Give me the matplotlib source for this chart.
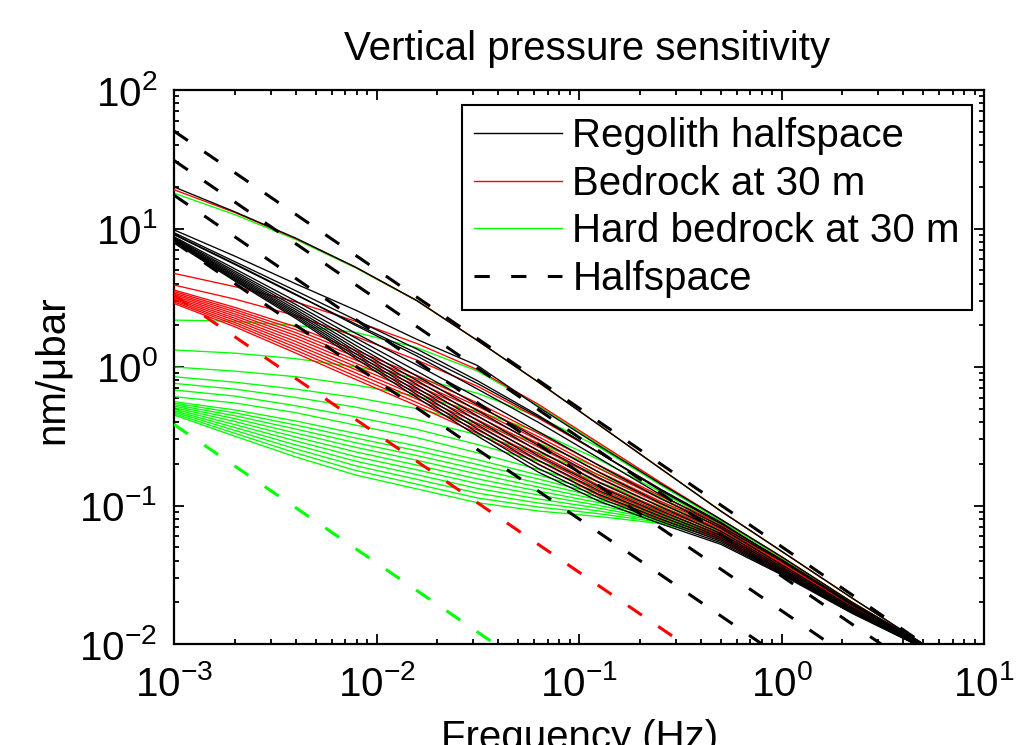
import numpy as np
import matplotlib
matplotlib.use("Agg")
import matplotlib.pyplot as plt
from matplotlib.lines import Line2D
from matplotlib.ticker import FixedLocator, LogLocator, NullFormatter

plt.rcParams['font.family'] = ['Liberation Sans', 'DejaVu Sans']
plt.rcParams['mathtext.fontset'] = 'custom'
plt.rcParams['mathtext.rm'] = 'Liberation Sans'
plt.rcParams['mathtext.it'] = 'Liberation Sans:italic'
plt.rcParams['mathtext.bf'] = 'Liberation Sans:bold'

# ---------------- data ----------------
freq_hz = [0.001, 0.002, 0.004, 0.0079, 0.0158, 0.0316, 0.0631, 0.126, 0.251, 0.501, 1.0, 2.24, 5.01]

# log10(nm/ubar) of each curve at freq_hz
regolith_log = [
    [1.300, 1.120, 0.930, 0.720, 0.480, 0.190, -0.110, -0.420, -0.730, -1.040, -1.330, -1.670, -2.000],
    [0.990, 0.800, 0.600, 0.410, 0.200, 0.010, -0.290, -0.570, -0.840, -1.100, -1.370, -1.700, -2.000],
    [0.970, 0.760, 0.550, 0.340, 0.130, -0.100, -0.350, -0.620, -0.890, -1.130, -1.390, -1.710, -2.000],
    [0.960, 0.745, 0.525, 0.300, 0.080, -0.160, -0.400, -0.660, -0.920, -1.150, -1.400, -1.720, -2.010],
    [0.955, 0.740, 0.520, 0.310, 0.100, -0.120, -0.360, -0.620, -0.880, -1.120, -1.400, -1.720, -2.000],
    [0.940, 0.708, 0.475, 0.243, 0.015, -0.221, -0.467, -0.713, -0.947, -1.163, -1.427, -1.736, -2.008],
    [0.933, 0.691, 0.451, 0.209, -0.030, -0.274, -0.522, -0.762, -0.981, -1.185, -1.441, -1.744, -2.012],
    [0.927, 0.678, 0.432, 0.181, -0.065, -0.316, -0.567, -0.801, -1.009, -1.203, -1.452, -1.751, -2.016],
    [0.921, 0.666, 0.415, 0.156, -0.097, -0.354, -0.606, -0.835, -1.034, -1.218, -1.462, -1.757, -2.018],
    [0.916, 0.656, 0.400, 0.134, -0.125, -0.387, -0.641, -0.866, -1.056, -1.232, -1.470, -1.762, -2.021],
    [0.912, 0.646, 0.387, 0.114, -0.151, -0.418, -0.674, -0.894, -1.076, -1.245, -1.478, -1.767, -2.024],
    [0.908, 0.637, 0.374, 0.095, -0.175, -0.447, -0.704, -0.921, -1.095, -1.258, -1.486, -1.772, -2.026],
    [0.904, 0.628, 0.362, 0.077, -0.198, -0.474, -0.733, -0.946, -1.113, -1.269, -1.493, -1.776, -2.028],
    [0.900, 0.620, 0.350, 0.060, -0.220, -0.500, -0.760, -0.970, -1.130, -1.280, -1.500, -1.780, -2.030],
]

bedrock_log = [
    [1.280, 1.115, 0.927, 0.720, 0.480, 0.190, -0.110, -0.420, -0.730, -1.040, -1.330, -1.670, -2.000],
    [0.676, 0.580, 0.470, 0.330, 0.170, -0.020, -0.270, -0.550, -0.830, -1.100, -1.370, -1.700, -2.000],
    [0.592, 0.490, 0.370, 0.220, 0.050, -0.140, -0.370, -0.620, -0.880, -1.130, -1.390, -1.710, -2.000],
    [0.556, 0.430, 0.290, 0.120, -0.060, -0.260, -0.480, -0.710, -0.930, -1.130, -1.400, -1.720, -2.000],
    [0.545, 0.414, 0.269, 0.097, -0.084, -0.284, -0.504, -0.734, -0.949, -1.143, -1.410, -1.726, -2.003],
    [0.534, 0.399, 0.248, 0.073, -0.109, -0.309, -0.529, -0.759, -0.968, -1.157, -1.420, -1.731, -2.007],
    [0.524, 0.383, 0.227, 0.050, -0.133, -0.333, -0.553, -0.783, -0.987, -1.170, -1.430, -1.737, -2.010],
    [0.513, 0.368, 0.206, 0.027, -0.158, -0.358, -0.578, -0.808, -1.005, -1.183, -1.440, -1.742, -2.013],
    [0.502, 0.352, 0.184, 0.003, -0.182, -0.382, -0.602, -0.832, -1.024, -1.197, -1.450, -1.748, -2.017],
    [0.491, 0.337, 0.163, -0.020, -0.207, -0.407, -0.627, -0.857, -1.043, -1.210, -1.460, -1.753, -2.020],
    [0.480, 0.321, 0.142, -0.043, -0.231, -0.431, -0.651, -0.881, -1.062, -1.223, -1.470, -1.759, -2.023],
    [0.470, 0.306, 0.121, -0.067, -0.256, -0.456, -0.676, -0.906, -1.081, -1.237, -1.480, -1.764, -2.027],
    [0.459, 0.290, 0.100, -0.090, -0.280, -0.480, -0.700, -0.930, -1.100, -1.250, -1.490, -1.770, -2.030],
]

hard_bedrock_log = [
    [1.255, 1.100, 0.920, 0.715, 0.478, 0.190, -0.110, -0.420, -0.730, -1.040, -1.330, -1.670, -2.000],
    [0.339, 0.330, 0.300, 0.250, 0.140, -0.030, -0.280, -0.560, -0.840, -1.100, -1.370, -1.700, -2.000],
    [0.123, 0.100, 0.060, 0.000, -0.080, -0.190, -0.360, -0.580, -0.850, -1.110, -1.380, -1.710, -2.000],
    [0.000, -0.030, -0.070, -0.130, -0.210, -0.320, -0.470, -0.670, -0.900, -1.140, -1.400, -1.720, -2.000],
    [-0.070, -0.110, -0.160, -0.220, -0.300, -0.410, -0.550, -0.730, -0.940, -1.160, -1.410, -1.730, -2.000],
    [-0.118, -0.160, -0.220, -0.290, -0.380, -0.490, -0.620, -0.780, -0.970, -1.180, -1.420, -1.730, -2.000],
    [-0.166, -0.210, -0.280, -0.360, -0.450, -0.560, -0.680, -0.830, -1.000, -1.190, -1.430, -1.740, -2.000],
    [-0.214, -0.260, -0.330, -0.420, -0.510, -0.620, -0.740, -0.870, -1.020, -1.200, -1.440, -1.740, -2.000],
    [-0.250, -0.310, -0.390, -0.480, -0.570, -0.670, -0.780, -0.900, -1.040, -1.210, -1.450, -1.750, -2.010],
    [-0.261, -0.331, -0.419, -0.513, -0.604, -0.704, -0.809, -0.920, -1.050, -1.212, -1.452, -1.752, -2.012],
    [-0.272, -0.352, -0.448, -0.547, -0.639, -0.739, -0.838, -0.940, -1.060, -1.214, -1.454, -1.754, -2.014],
    [-0.282, -0.373, -0.477, -0.580, -0.673, -0.773, -0.867, -0.960, -1.070, -1.217, -1.457, -1.757, -2.017],
    [-0.293, -0.394, -0.506, -0.613, -0.708, -0.808, -0.896, -0.980, -1.080, -1.219, -1.459, -1.759, -2.019],
    [-0.304, -0.416, -0.534, -0.647, -0.742, -0.842, -0.924, -1.000, -1.090, -1.221, -1.461, -1.761, -2.021],
    [-0.315, -0.437, -0.563, -0.680, -0.777, -0.877, -0.953, -1.020, -1.100, -1.223, -1.463, -1.763, -2.023],
    [-0.325, -0.458, -0.592, -0.713, -0.811, -0.911, -0.982, -1.040, -1.110, -1.226, -1.466, -1.766, -2.026],
    [-0.336, -0.479, -0.621, -0.747, -0.846, -0.946, -1.011, -1.060, -1.120, -1.228, -1.468, -1.768, -2.028],
    [-0.347, -0.500, -0.650, -0.780, -0.880, -0.980, -1.040, -1.080, -1.130, -1.230, -1.470, -1.770, -2.030],
]

# halfspace lines: value at 1 mHz and at 10 Hz
halfspace_f = [0.001, 10.0]
halfspace_black = [[50.5, 0.00505], [31.0, 0.0031], [17.4, 0.00174], [8.0, 0.0008]]
halfspace_red = [[3.3, 0.00033]]
halfspace_green = [[0.385, 0.0000385]]

legend_labels = ['Regolith halfspace', 'Bedrock at 30 m', 'Hard bedrock at 30 m', 'Halfspace']
xtick_vals = [1e-3, 1e-2, 1e-1, 1e0, 1e1]
xtick_labels = [r'$10^{-3}$', r'$10^{-2}$', r'$10^{-1}$', r'$10^{0}$', r'$10^{1}$']
ytick_vals = [1e-2, 1e-1, 1e0, 1e1, 1e2]
ytick_labels = [r'$10^{-2}$', r'$10^{-1}$', r'$10^{0}$', r'$10^{1}$', r'$10^{2}$']

# ---------------- drawing ----------------
W, H = 1019, 745
fig = plt.figure(figsize=(W / 100, H / 100), dpi=100)
ax = fig.add_axes([174 / W, (H - 644) / H, 810 / W, 554 / H])
ax.set_xscale('log')
ax.set_yscale('log')

f = np.array(freq_hz)
LW = 0.95
for row in hard_bedrock_log:
    ax.plot(f, 10 ** np.array(row), color=(0, 1, 0), lw=LW, zorder=2)
for row in bedrock_log:
    ax.plot(f, 10 ** np.array(row), color=(1, 0, 0), lw=LW, zorder=3)
for row in regolith_log:
    ax.plot(f, 10 ** np.array(row), color='black', lw=LW, zorder=4)

DASH = (5.5, 6.5)
DLW = 2.2
for color, rows in [((0, 1, 0), halfspace_green), ((1, 0, 0), halfspace_red), ('black', halfspace_black)]:
    for r in rows:
        ln, = ax.plot(halfspace_f, r, color=color, lw=DLW, zorder=5)
        ln.set_dashes(DASH)
        ln.set_dash_capstyle('butt')

ax.set_xlim(1e-3, 1e1)
ax.set_ylim(1e-2, 1e2)

FS = 29
ax.xaxis.set_major_locator(FixedLocator(xtick_vals))
ax.yaxis.set_major_locator(FixedLocator(ytick_vals))
ax.set_xticklabels(xtick_labels, fontsize=FS)
ax.set_yticklabels(ytick_labels, fontsize=FS)
ax.xaxis.set_minor_locator(LogLocator(base=10, subs=np.arange(2, 10), numticks=20))
ax.yaxis.set_minor_locator(LogLocator(base=10, subs=np.arange(2, 10), numticks=20))
ax.xaxis.set_minor_formatter(NullFormatter())
ax.yaxis.set_minor_formatter(NullFormatter())
ax.tick_params(which='both', direction='in', top=True, right=True, width=1.3, colors='black')
ax.tick_params(which='major', length=7)
ax.tick_params(which='minor', length=3.5)
ax.tick_params(axis='x', which='major', pad=15)
ax.tick_params(axis='y', which='major', pad=12)
for s in ax.spines.values():
    s.set_linewidth(1.6)

fig.text(587 / W, (H - 60) / H, 'Vertical pressure sensitivity', ha='center', va='baseline', fontsize=FS)
fig.text(580 / W, (H - 749) / H, 'Frequency (Hz)', ha='center', va='baseline', fontsize=FS)
fig.text(52 / W, (H - 370) / H, 'nm/μbar', ha='center', va='center', rotation=90, fontsize=FS)

handles = [
    Line2D([], [], color='black', lw=1.0),
    Line2D([], [], color=(1, 0, 0), lw=1.0),
    Line2D([], [], color=(0, 1, 0), lw=1.0),
    Line2D([], [], color='black', lw=DLW, dashes=(5.0, 7.0), dash_capstyle='butt'),
]
leg = ax.legend(handles, legend_labels, loc='upper right',
                bbox_to_anchor=((972 - 174) / 810, (644 - 105) / 554),
                borderaxespad=0, fontsize=FS, frameon=True, fancybox=False,
                handlelength=2.2, handletextpad=0.25, labelspacing=0.24,
                borderpad=0.3, framealpha=1)
leg.get_frame().set_edgecolor('black')
leg.get_frame().set_linewidth(1.5)
leg.set_zorder(10)

fig.savefig('out.png', dpi=100)
